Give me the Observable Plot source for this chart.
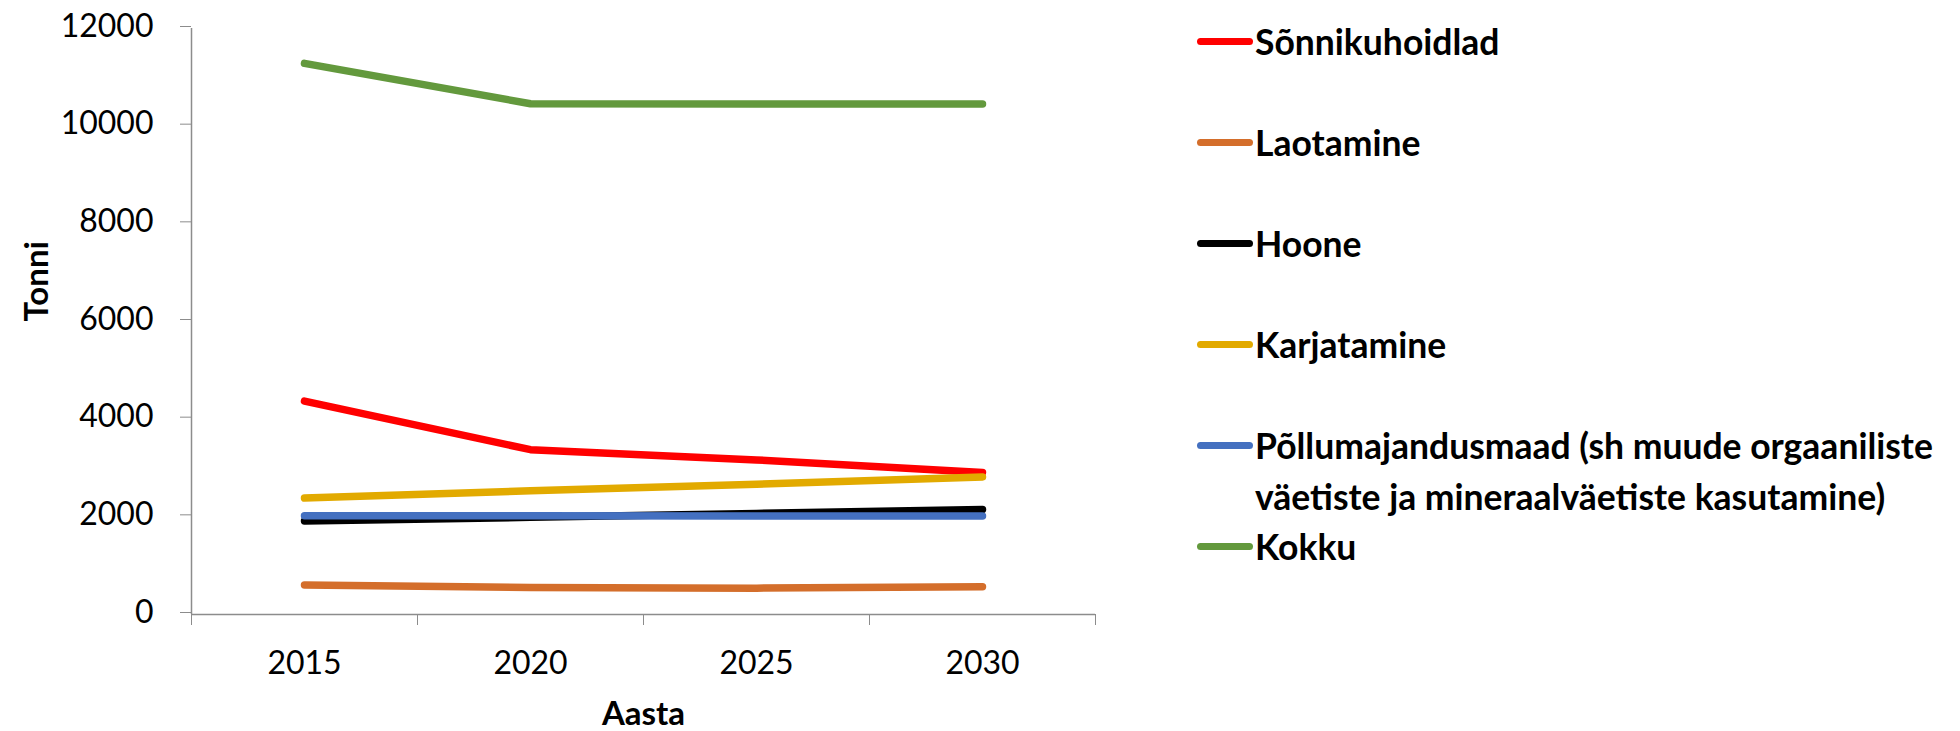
<!DOCTYPE html>
<html>
<head>
<meta charset="utf-8">
<script src="https://cdn.jsdelivr.net/npm/d3@7"></script>
<script src="https://cdn.jsdelivr.net/npm/@observablehq/plot@0.6"></script>
<style>
  html, body { margin: 0; padding: 0; background: #fff; }
  #wrap { position: relative; width: 1960px; height: 731px; overflow: hidden; font-family: Lato, "Open Sans", sans-serif; }
  #legend .item { position: absolute; left: 1197px; white-space: nowrap; font-weight: bold; font-size: 35.5px; line-height: 51px; color: #000; }
  #legend .sw { position: absolute; left: 0; top: 22px; width: 56px; height: 7px; border-radius: 4px; }
  #legend .tx { display: block; margin-left: 58px; }
</style>
</head>
<body>
<div id="wrap"><div id="chart"></div><div id="legend"></div></div>
<script>
// ---- data ----
const years = [2015, 2020, 2025, 2030];
const seriesNames = [
  "Sõnnikuhoidlad",
  "Laotamine",
  "Hoone",
  "Karjatamine",
  "Põllumajandusmaad (sh muude orgaaniliste\nväetiste ja mineraalväetiste kasutamine)",
  "Kokku"
];
const seriesColors = ["#FF0000", "#D46E2B", "#000000", "#E2AA00", "#4470C0", "#63993D"];
const sonnikuhoidlad = [4370, 3375, 3165, 2910];
const laotamine = [605, 552, 540, 570];
const hoone = [1915, 1990, 2070, 2150];
const karjatamine = [2385, 2532, 2668, 2818];
const pollumajandusmaad = [2022, 2022, 2018, 2015];
const kokku = [11285, 10460, 10455, 10455];
const yTicks = [0, 2000, 4000, 6000, 8000, 10000, 12000];

const seriesValues = [sonnikuhoidlad, laotamine, hoone, karjatamine, pollumajandusmaad, kokku];
const table = [];
seriesNames.forEach((name, i) => {
  years.forEach((yr, j) => table.push({series: name, year: yr, value: seriesValues[i][j]}));
});

// category boundaries (Excel-style ticks between categories)
const step = years[1] - years[0];
const bounds = [years[0] - step / 2, ...years.map(y => y + step / 2)];
const gray = "#8C8C8C";

const chart = Plot.plot({
  width: 1960,
  height: 731,
  marginLeft: 191,
  marginRight: 865,
  marginTop: 28,
  marginBottom: 117,
  style: {fontFamily: "Lato, 'Open Sans', sans-serif", fontSize: "32px", color: "#000", background: "transparent", overflow: "visible"},
  x: {type: "linear", domain: [bounds[0], bounds[bounds.length - 1]]},
  y: {domain: [0, 12000]},
  color: {domain: seriesNames, range: seriesColors},
  marks: [
    Plot.axisY({ticks: yTicks, tickSize: 11, tickPadding: 27, tickFormat: d3.format("d"), stroke: gray, label: null, fontSize: 32, dy: -2}),
    Plot.axisX({ticks: bounds, tickSize: 11, tickFormat: () => "", stroke: gray, label: null}),
    Plot.axisX({ticks: years, tickSize: 0, tickPadding: 37, tickFormat: d3.format("d"), label: null, fontSize: 32}),
    Plot.ruleX([bounds[0]], {y1: 0, y2: 12000, stroke: gray, strokeWidth: 1.5}),
    Plot.ruleY([0], {stroke: gray, strokeWidth: 1.5}),
    Plot.lineY(table, {x: "year", y: "value", z: "series", stroke: "series", strokeWidth: 7.5, strokeLinecap: "round", strokeLinejoin: "round"}),
    Plot.text(["Tonni"], {frameAnchor: "left", dx: -154, rotate: -90, fontWeight: "bold", fontSize: 33}),
    Plot.text(["Aasta"], {frameAnchor: "bottom", dy: 110, fontWeight: "bold", fontSize: 33})
  ]
});
document.getElementById("chart").appendChild(chart);

// ---- legend ----
const legend = document.getElementById("legend");
seriesNames.forEach((name, i) => {
  const item = document.createElement("div");
  item.className = "item";
  item.style.top = (41 + i * 101 - 25.5) + "px";
  const sw = document.createElement("span");
  sw.className = "sw";
  sw.style.background = seriesColors[i];
  const tx = document.createElement("span");
  tx.className = "tx";
  tx.innerHTML = name.split("\n").join("<br>");
  item.appendChild(sw);
  item.appendChild(tx);
  legend.appendChild(item);
});
</script>
</body>
</html>
